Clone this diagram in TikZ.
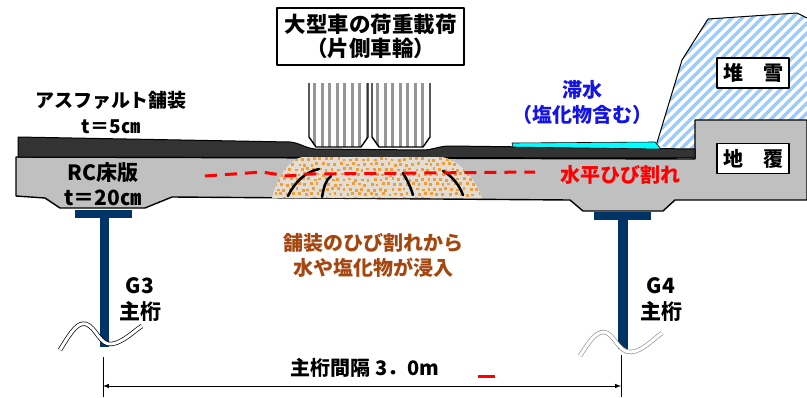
\documentclass[tikz,border=0pt]{standalone}
\usepackage{fontspec}
\setmainfont{Noto Sans CJK JP}[BoldFont={* Black}]
\usepackage{tikz}
\usetikzlibrary{arrows, positioning}
\usepackage{xcolor}
\definecolor{asphalt}{RGB}{51,51,51}
\definecolor{slab}{RGB}{192,192,192}
\definecolor{girder}{RGB}{0,51,102}
\definecolor{pond}{RGB}{0,255,255}
\definecolor{snow}{RGB}{153,204,255}
\definecolor{rust}{RGB}{240,158,60}
\definecolor{rustbg}{RGB}{226,222,214}
\definecolor{leak}{RGB}{165,70,15}
\definecolor{pondtext}{RGB}{20,20,230}
\definecolor{tread}{RGB}{150,150,150}
\tikzstyle{tag} = [
    font=\fontsize{20}{25}\selectfont\bfseries,
    align=center,
    inner sep=0pt
]
\tikzstyle{namebox} = [
    rectangle,
    draw=black,
    line width=1.2pt,
    fill=white,
    align=center,
    font=\fontsize{20}{25}\selectfont\bfseries,
    minimum width=72pt,
    minimum height=30pt
]
\tikzstyle{crack} = [
    line width=2.5pt,
    line cap=round
]
\tikzstyle{tire} = [
    draw=black,
    line width=1.4pt,
    line join=round
]

\begin{document}
\begin{tikzpicture}[x=1pt, y=-1pt, node distance=25pt, line join=round]
    \useasboundingbox (0,0) rectangle (807,397);

    % snow bank
    \begin{scope}
        \clip (656,146) -- (682,60) -- (708,19) -- (797,13) -- (807,18) -- (807,125) -- (695,125) -- (695,150) -- cycle;
        \foreach \k in {0,10,...,330}
            \draw[snow, line width=3.5pt] (480+\k,160) -- ++(170,-170);
    \end{scope}
    \draw[line width=1pt] (656,146) -- (682,60) -- (708,19) -- (797,13) -- (807,18);

    % deck slab with kerb
    \filldraw[fill=slab, draw=black, line width=1.4pt]
        (16,157) -- (695,159) -- (695,120) -- (807,120) -- (807,200) -- (675,200) -- (663,211)
        -- (583,211) -- (570,200) -- (172,197) -- (145,208) -- (60,208) -- (45,198) -- (16,196) -- cycle;

    % pavement
    \filldraw[fill=asphalt, draw=black, line width=1pt]
        (18,137) -- (290,142) .. controls (300,143) and (305,148) .. (315,149) -- (425,150)
        .. controls (435,149) and (440,146) .. (450,146) -- (695,149) -- (695,158) -- (18,157) -- cycle;

    % standing water
    \filldraw[fill=pond, draw=black, line width=0.6pt] (512,143) -- (655,142) -- (661,149) -- (513,147) -- cycle;

    % damaged zone
    \begin{scope}
        \clip (272,198) .. controls (276,180) and (288,160) .. (302,157) -- (442,157) .. controls (460,160) and (476,180) .. (482,198) -- cycle;
        \fill[rustbg] (268,154) rectangle (486,200);
        \pgfmathsetseed{7}
        \foreach \r in {0,...,8} {
            \foreach \c in {0,...,35} {
                \pgfmathsetmacro{\px}{270 + \c*6 + mod(\r,2)*3 + rnd*2}
                \pgfmathsetmacro{\py}{157 + \r*5 + rnd*2}
                \fill[rust] (\px,\py) rectangle ++(2.8,2.8);
            }
        }
    \end{scope}

    % cracks
    \draw[crack] (288,196) .. controls (295,182) and (305,172) .. (319,169);
    \draw[crack] (322,197) .. controls (324,186) and (326,180) .. (331,176);
    \draw[crack] (413,195) .. controls (410,185) and (406,178) .. (403,173);
    \draw[crack] (463,195) .. controls (458,182) and (450,175) .. (443,171);

    % horizontal crack
    \draw[red, line width=3pt, dash pattern=on 12pt off 8pt] (205,176) -- (262,172) -- (287,176) -- (310,174) -- (535,172);

    % wheels
    \begin{scope}
        \clip (309,83) -- (309,137) -- (316,147) -- (361,147) -- (368,137) -- (368,83) -- cycle;
        \fill[white] (305,80) rectangle (372,150);
        \foreach \x in {313,320.5,...,366}
            \fill[tread] (\x,80) rectangle ++(3,70);
    \end{scope}
    \draw[tire] (309,83) -- (309,137) -- (316,147) -- (361,147) -- (368,137) -- (368,83);
    \begin{scope}
        \clip (372,83) -- (372,137) -- (379,147) -- (423,147) -- (430,137) -- (430,83) -- cycle;
        \fill[white] (368,80) rectangle (434,150);
        \foreach \x in {376,383.5,...,428}
            \fill[tread] (\x,80) rectangle ++(3,70);
    \end{scope}
    \draw[tire] (372,83) -- (372,137) -- (379,147) -- (423,147) -- (430,137) -- (430,83);

    % main girders
    \fill[girder] (75,210) rectangle (132,218);
    \fill[girder] (100,218) rectangle (109,347);
    \fill[girder] (594,212) rectangle (651,220);
    \fill[girder] (618,220) rectangle (628,349);
    \draw[double, double distance=3pt, line width=0.7pt]
        (60,350) .. controls (72,330) and (78,322) .. (86,324) .. controls (96,327) and (100,346) .. (112,344)
        .. controls (124,342) and (135,330) .. (142,326);
    \draw[tread, double, double distance=3pt, line width=0.7pt]
        (580,356) .. controls (590,340) and (596,332) .. (604,332) .. controls (614,333) and (618,352) .. (630,352)
        .. controls (642,352) and (652,340) .. (662,333);

    % girder spacing
    \coordinate (tickL) at (103,357);
    \coordinate (footL) at (103,397);
    \coordinate (tickR) at (621,355);
    \coordinate (footR) at (621,397);
    \coordinate (dimL) at (103,386);
    \coordinate (dimR) at (621,386);
    \draw[line width=0.8pt] (tickL) -- (footL);
    \draw[line width=0.8pt] (tickR) -- (footR);
    \draw[<->, >=latex, line width=1pt] (dimL) -- (dimR);
    \draw[red, line width=3pt] (478,376) -- (495,376);

    % labels
    \node[tag, font=\fontsize{19}{25}\selectfont\bfseries] (asphaltLbl) at (111,100) {アスファルト舗装};
    \node[tag, font=\fontsize{19}{25}\selectfont\bfseries] (asphaltT) [below of=asphaltLbl, node distance=27pt] {t＝5㎝};
    \node[tag, font=\fontsize{21}{25}\selectfont\bfseries] (slabLbl) at (103,173) {RC床版};
    \node[tag, font=\fontsize{21}{25}\selectfont\bfseries] (slabT) [below of=slabLbl] {t＝20㎝};
    \node[namebox, font=\fontsize{21.5}{24}\selectfont\bfseries, minimum width=187pt, minimum height=57pt] (loadBox) at (370.5,36.5) {大型車の荷重載荷\\（片側車輪）};
    \node[namebox] (snowBox) at (753,73) {堆　雪};
    \node[namebox] (kerbBox) at (753,158.5) {地　覆};
    \node[tag, text=pondtext] (pondLbl) at (582,102.5) {滞水\\（塩化物含む）};
    \node[tag, text=red] (crackLbl) at (620,175) {水平ひび割れ};
    \node[tag, text=leak] (leakLbl) at (373,255.5) {舗装のひび割れから\\水や塩化物が浸入};
    \node[tag, font=\fontsize{21}{26}\selectfont\bfseries] (gThreeLbl) at (140,300) {G3\\主桁};
    \node[tag, font=\fontsize{21}{26}\selectfont\bfseries] (gFourLbl) at (661,300) {G4\\主桁};
    \node[tag] (spanLbl) at (365,368) {主桁間隔 3．0m};
\end{tikzpicture}
\end{document}
